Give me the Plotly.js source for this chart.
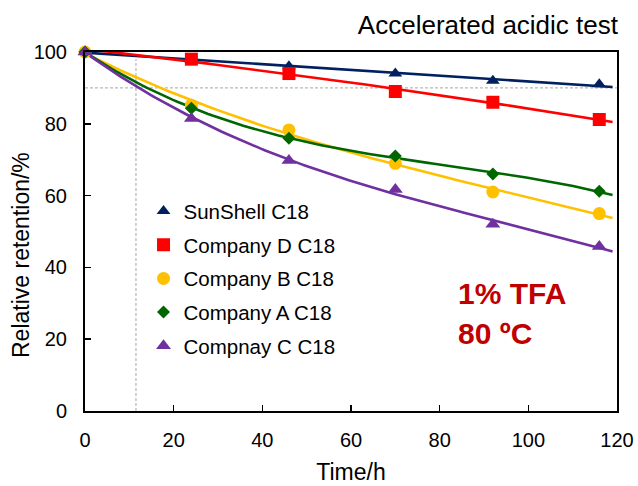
<!DOCTYPE html>
<html>
<head>
<meta charset="utf-8">
<script src="https://cdn.plot.ly/plotly-3.0.1.min.js"></script>
<style>html,body{margin:0;padding:0;background:#fff;}#chart{width:638px;height:486px;}</style>
</head>
<body>
<div id="chart"></div>
<script>
// ---- data ----
const timeH = [0, 24, 46, 70, 92, 116];
const seriesNames = ["SunShell C18", "Company D C18", "Company B C18", "Company A C18", "Compnay C C18"];
const sunshell = [100, 98, 96, 94, 92, 91];
const companyD = [100.5, 98, 94, 89, 86, 81.2];
const companyB = [100, 85.2, 78.3, 69, 61, 55];
const companyA = [100, 84.3, 76, 71, 66, 61.2];
const companyC = [100, 81.5, 69.8, 61.7, 52, 45.8];
const refRetention = 90;
const refTime = 11.5;
const refTimeTop = 98;
const xTicks = [0, 20, 40, 60, 80, 100, 120];
const yTicks = [0, 20, 40, 60, 80, 100];
// polynomial trendline order per series (as in the spreadsheet trendlines)
const trendOrder = [1, 2, 3, 3, 3];
const trendStart = 0;
const trendEnd = 119;

// ---- styles ----
const colors = ["#002060", "#FF0000", "#FFC000", "#006600", "#7030A0"];
const symbols = ["triangle-up", "square", "circle", "diamond", "triangle-up"];
const sizes = [12, 13, 13, 10, 13];
const values = [sunshell, companyD, companyB, companyA, companyC];
const FONT = "Liberation Sans, Arial, sans-serif";

// least-squares polynomial trendline computed from the series data
function polyFit(xs, ys, order) {
  const n = order + 1;
  const A = Array.from({length: n}, () => new Array(n + 1).fill(0));
  xs.forEach((xv, k) => {
    const t = xv / 100;
    for (let i = 0; i < n; i++) {
      for (let j = 0; j < n; j++) A[i][j] += Math.pow(t, i + j);
      A[i][n] += ys[k] * Math.pow(t, i);
    }
  });
  for (let c = 0; c < n; c++) {
    let p = c;
    for (let r = c + 1; r < n; r++) if (Math.abs(A[r][c]) > Math.abs(A[p][c])) p = r;
    [A[c], A[p]] = [A[p], A[c]];
    for (let r = 0; r < n; r++) {
      if (r === c) continue;
      const f = A[r][c] / A[c][c];
      for (let j = c; j <= n; j++) A[r][j] -= f * A[c][j];
    }
  }
  const coef = A.map((row, i) => row[n] / row[i]);
  return xv => coef.reduce((s, a, i) => s + a * Math.pow(xv / 100, i), 0);
}

const traces = [];
values.forEach((v, i) => {
  const f = polyFit(timeH, v, trendOrder[i]);
  const tx = [], ty = [];
  for (let k = 0; k <= 120; k++) {
    const xv = trendStart + (trendEnd - trendStart) * k / 120;
    tx.push(xv); ty.push(f(xv));
  }
  traces.push({
    type: "scatter", mode: "lines", x: tx, y: ty, showlegend: false, hoverinfo: "skip",
    line: {color: colors[i], width: 2.6}
  });
});
values.forEach((v, i) => {
  traces.push({
    type: "scatter", mode: "markers", name: seriesNames[i], legendgroup: "g" + i,
    x: timeH, y: v, cliponaxis: false,
    marker: {color: colors[i], symbol: symbols[i], size: sizes[i]}
  });
});

const layout = {
  width: 638,
  height: 486,
  margin: {l: 85, r: 21, t: 52, b: 75},
  paper_bgcolor: "#fff",
  plot_bgcolor: "#fff",
  font: {family: FONT, color: "#000", size: 20},
  showlegend: true,
  title: {
    text: "Accelerated acidic test",
    font: {family: FONT, size: 26, color: "#000"},
    x: 618 / 638, xanchor: "right", xref: "container",
    y: 1 - 25 / 486, yanchor: "middle", yref: "container"
  },
  xaxis: {
    range: [0, 120],
    tickvals: xTicks,
    ticks: "inside", ticklen: 6, tickwidth: 1.5, tickcolor: "#000",
    showline: true, linewidth: 2, linecolor: "#000", mirror: true,
    showgrid: false, zeroline: false,
    tickfont: {family: FONT, size: 20},
    ticklabelstandoff: 10,
    title: {text: "Time/h", font: {family: FONT, size: 23}, standoff: 14}
  },
  yaxis: {
    range: [0, 100],
    tickvals: yTicks,
    ticks: "inside", ticklen: 6, tickwidth: 1.5, tickcolor: "#000",
    showline: true, linewidth: 2, linecolor: "#000", mirror: true,
    showgrid: false, zeroline: false,
    tickfont: {family: FONT, size: 20},
    ticklabelstandoff: 12
  },
  legend: {
    x: 0.110, xanchor: "left", xref: "paper",
    y: 0.612, yanchor: "top", yref: "paper",
    bgcolor: "rgba(0,0,0,0)",
    font: {family: FONT, size: 20.5, color: "#000"},
    tracegroupgap: 4,
    itemwidth: 30
  },
  shapes: [
    {type: "line", xref: "x", yref: "y", x0: 0, x1: 120, y0: refRetention, y1: refRetention,
     line: {color: "#A6A6A6", width: 1, dash: "3px,2px"}, layer: "below"},
    {type: "line", xref: "x", yref: "y", x0: refTime, x1: refTime, y0: 0, y1: refTimeTop,
     line: {color: "#A6A6A6", width: 1, dash: "3px,2px"}, layer: "below"}
  ],
  annotations: [
    {text: "Relative retention/%", xref: "paper", yref: "paper", x: -0.1203, y: 0.4345,
     xanchor: "center", yanchor: "middle", textangle: -90, showarrow: false,
     font: {family: FONT, size: 23, color: "#000"}},
    {text: "<b>1% TFA</b>", xref: "paper", yref: "paper", x: 0.697, y: 0.326,
     xanchor: "left", yanchor: "middle", showarrow: false,
     font: {family: FONT, size: 30, color: "#C00000"}},
    {text: "<b>80 ºC</b>", xref: "paper", yref: "paper", x: 0.697, y: 0.2145,
     xanchor: "left", yanchor: "middle", showarrow: false,
     font: {family: FONT, size: 30, color: "#C00000"}}
  ]
};

Plotly.newPlot("chart", traces, layout, {displayModeBar: false, staticPlot: true});
</script>
</body>
</html>
